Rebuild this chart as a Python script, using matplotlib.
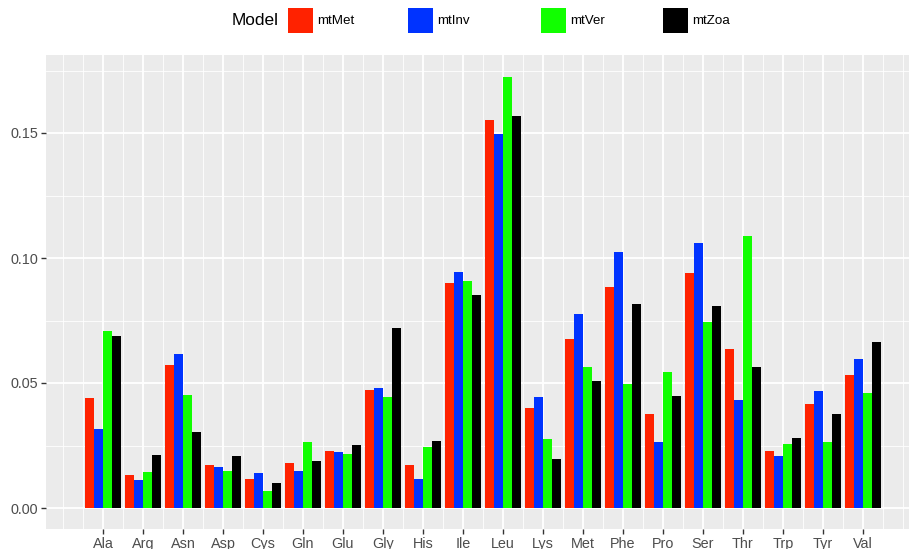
import numpy as np
import matplotlib
matplotlib.use("Agg")
import matplotlib.pyplot as plt
from matplotlib.patches import Rectangle

# Amino acid frequencies under four mitochondrial substitution models
amino_acids = ["Ala", "Arg", "Asn", "Asp", "Cys", "Gln", "Glu", "Gly", "His", "Ile",
               "Leu", "Lys", "Met", "Phe", "Pro", "Ser", "Thr", "Trp", "Tyr", "Val"]
models = ["mtMet", "mtInv", "mtVer", "mtZoa"]
colors = ["#FF2200", "#0033FF", "#11FF00", "#000000"]

mtMet = [0.0440, 0.0132, 0.0571, 0.0171, 0.0115, 0.0180, 0.0227, 0.0471, 0.0172, 0.0899,
         0.1553, 0.0399, 0.0676, 0.0885, 0.0376, 0.0939, 0.0637, 0.0228, 0.0416, 0.0533]
mtInv = [0.0317, 0.0111, 0.0616, 0.0163, 0.0139, 0.0147, 0.0223, 0.0479, 0.0117, 0.0944,
         0.1495, 0.0445, 0.0775, 0.1024, 0.0263, 0.1061, 0.0431, 0.0208, 0.0467, 0.0596]
mtVer = [0.0709, 0.0143, 0.0452, 0.0148, 0.0068, 0.0264, 0.0216, 0.0443, 0.0244, 0.0908,
         0.1725, 0.0275, 0.0563, 0.0497, 0.0544, 0.0745, 0.1088, 0.0257, 0.0265, 0.0459]
mtZoa = [0.0689, 0.0212, 0.0305, 0.0208, 0.0101, 0.0187, 0.0251, 0.0721, 0.0268, 0.0851,
         0.1569, 0.0195, 0.0508, 0.0817, 0.0448, 0.0807, 0.0563, 0.0280, 0.0375, 0.0663]
series = [mtMet, mtInv, mtVer, mtZoa]

y_ticks = [0.00, 0.05, 0.10, 0.15]

W, H = 909, 549
fig = plt.figure(figsize=(W / 100, H / 100), dpi=100)
fig.patch.set_facecolor("white")

# panel placement in pixels
px_left, px_right, px_top, px_bottom = 46, 909, 55, 529
ax = fig.add_axes([px_left / W, (H - px_bottom) / H,
                   (px_right - px_left) / W, (px_bottom - px_top) / H])
ax.set_facecolor("#EBEBEB")
for s in ax.spines.values():
    s.set_visible(False)

x = np.arange(1, len(amino_acids) + 1)
group_w = 0.9
bar_w = group_w / len(models)
for i, (vals, col) in enumerate(zip(series, colors)):
    offs = -group_w / 2 + bar_w * (i + 0.5)
    ax.bar(x + offs, vals, width=bar_w, color=col, linewidth=0, zorder=3)

ax.set_xlim(-0.425, 21.15)
ax.set_ylim(-0.0084, 0.1812)

# grid: major at ticks, minor halfway
for v in y_ticks:
    ax.axhline(v, color="white", lw=1.3, zorder=1)
for v in [0.025, 0.075, 0.125, 0.175]:
    ax.axhline(v, color="white", lw=0.6, zorder=1)
for v in x:
    ax.axvline(v, color="white", lw=1.3, zorder=1)
for v in np.arange(0, 21.01, 0.5):
    if v not in x:
        ax.axvline(v, color="white", lw=0.6, zorder=1)

ax.set_xticks(x)
ax.set_xticklabels(amino_acids)
ax.set_yticks(y_ticks)
ax.set_yticklabels([f"{v:.2f}" for v in y_ticks])
ax.tick_params(axis="both", colors="#333333", length=3.5, width=1.0,
               labelcolor="#4D4D4D", labelsize=10.4, pad=2)
for lab in ax.get_xticklabels() + ax.get_yticklabels():
    lab.set_fontfamily("Liberation Sans")

# legend along the top
fig.text(232 / W, 1 - 20.5 / H, "Model", ha="left", va="center",
         fontsize=12.4, fontfamily="Liberation Sans", color="black")
key_x = [288, 408, 541, 663]
for kx, name, col in zip(key_x, models, colors):
    fig.patches.append(Rectangle((kx / W, 1 - 33 / H), 25 / W, 25 / H,
                                 transform=fig.transFigure, facecolor=col,
                                 edgecolor="none"))
    fig.text((kx + 29) / W, 1 - 20.5 / H, name, ha="left", va="center",
             fontsize=9.6, fontfamily="Liberation Sans", color="black")

fig.savefig("out.png", dpi=100)
